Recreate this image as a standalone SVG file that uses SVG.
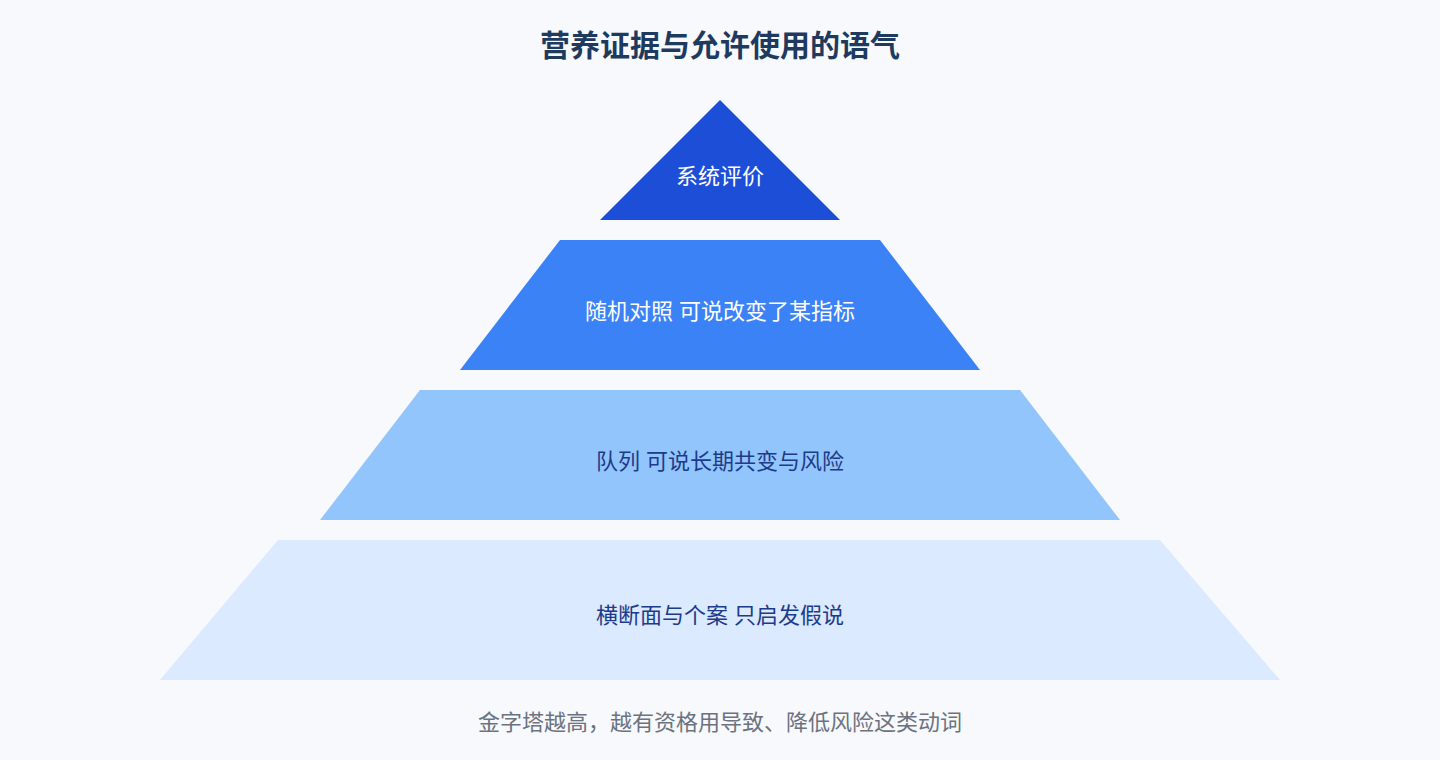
<svg xmlns="http://www.w3.org/2000/svg" width="1440" height="760" viewBox="0 0 1440 760">
<style>
text{font-family:"Liberation Sans","Noto Sans CJK SC",sans-serif;text-anchor:middle;dominant-baseline:central}
.t{font-size:22px}
</style>
<rect width="1440" height="760" fill="#f7f9fc"/>
<text x="720" y="45" font-size="30" font-weight="bold" fill="#1e3a5f">营养证据与允许使用的语气</text>
<g id="level1"><polygon points="600,220 720,100 840,220" fill="#1d4ed8"/><text class="t" x="720" y="176" fill="#ffffff">系统评价</text></g>
<g id="level2"><polygon points="560,240 880,240 980,370 460,370" fill="#3b82f6"/><text class="t" x="720" y="311" fill="#ffffff">随机对照 可说改变了某指标</text></g>
<g id="level3"><polygon points="420,390 1020,390 1120,520 320,520" fill="#93c5fd"/><text class="t" x="720" y="461" fill="#1e3a8a">队列 可说长期共变与风险</text></g>
<g id="level4"><polygon points="278,540 1160,540 1280,680 160,680" fill="#dbeafe"/><text class="t" x="720" y="615" fill="#1e3a8a">横断面与个案 只启发假说</text></g>
<g id="connectors"></g>
<text x="720" y="722" font-size="22" fill="#6b7280">金字塔越高，越有资格用导致、降低风险这类动词</text>
</svg>
